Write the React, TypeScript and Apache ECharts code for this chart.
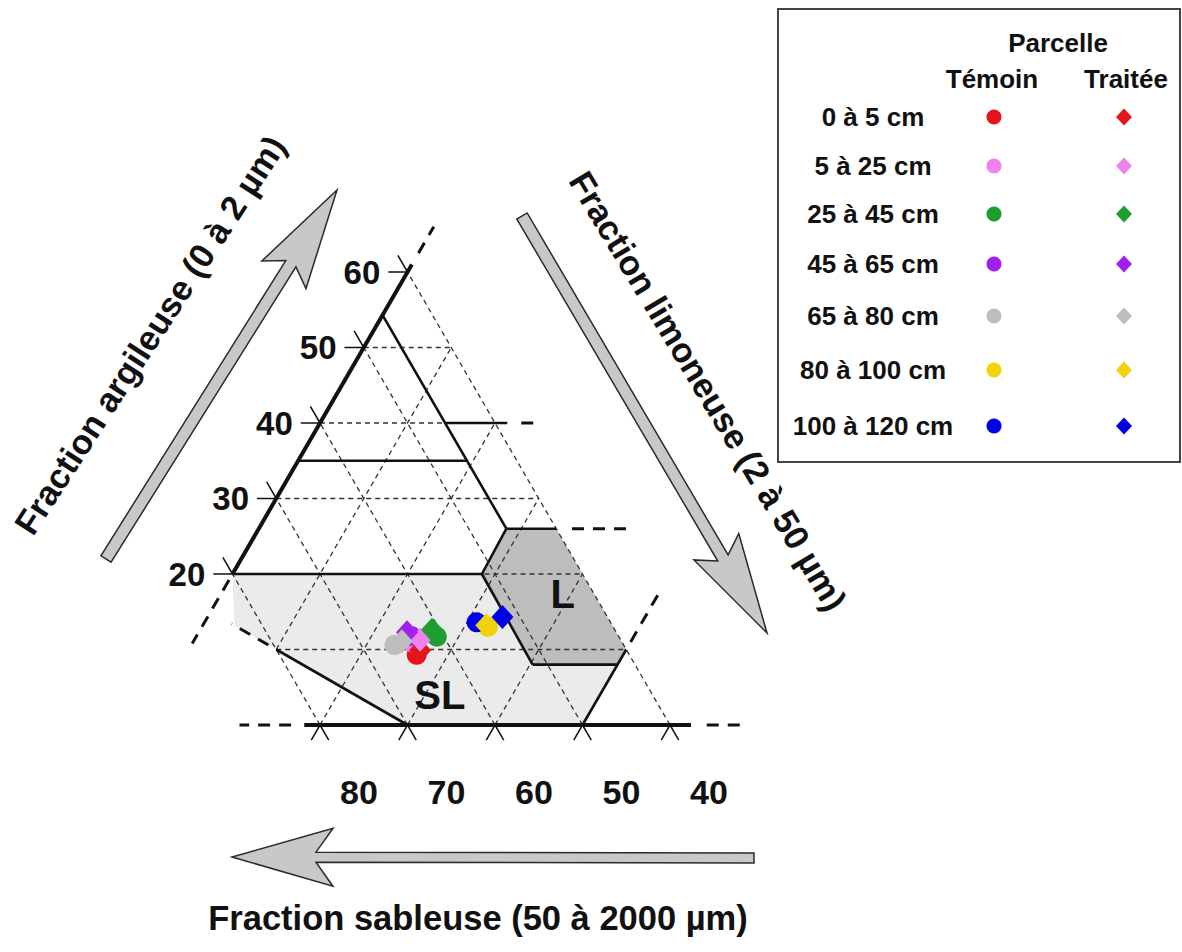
import React, { useEffect, useRef } from "react";
import * as echarts from "echarts";

// ---- Ternary axes (percent) ----
const clayTicks = [20, 30, 40, 50, 60];
const sandTicks = [80, 70, 60, 50, 40];
const gridClay = [10, 20, 30, 40, 50];
const gridSand = [40, 50, 60, 70, 80];
const gridSilt = [10, 20, 30, 40, 50];

// ---- Texture classes, vertices as [clay, silt] ----
const sandyLoamArea = [[20, 0], [20, 28.5], [8, 40.3], [8, 50], [0, 50], [0, 30], [13.2, 3.6]];
const loamArea = [[26, 28.3], [26, 34], [10, 50], [8, 50], [8, 40.3], [20, 28.5]];

const thickBoundaries = [
  [[20, 0], [61, 0]],
  [[0, 18.2], [0, 62.4]],
];
const boundaries = [
  [[20, 0], [20, 28.5]],
  [[35, 0], [35, 19.3]],
  [[54.3, 0], [26, 28.3]],
  [[40, 14.3], [40, 21.4]],
  [[26, 28.3], [26, 34]],
  [[26, 28.3], [20, 28.5]],
  [[20, 28.5], [8, 40.3]],
  [[8, 40.3], [8, 50]],
  [[10, 50], [0, 50]],
  [[0, 30], [10, 10]],
];
const boundaryExtensions = [
  [[62.5, 0], [66, 0]],
  [[19.2, 0], [10.8, 0]],
  [[0, 16.7], [0, 10.8]],
  [[0, 64.2], [0, 68.5]],
  [[40, 23], [40, 25.2]],
  [[26, 35.8], [26, 43]],
  [[11, 50], [18, 50]],
  [[10.6, 8.8], [13.4, 3.2]],
];

const regionLabels = [
  { name: "SL", clay: 4, silt: 31.7 },
  { name: "L", clay: 17.3, silt: 39.1 },
];

// ---- Samples ----
const depths = ["0 à 5 cm", "5 à 25 cm", "25 à 45 cm", "45 à 65 cm", "65 à 80 cm", "80 à 100 cm", "100 à 120 cm"];
const depthColors = ["#e3141c", "#ee82ee", "#1f9e30", "#a020f0", "#bebebe", "#f2d20a", "#0000e6"];
const temoinClay = [9.3, 10.9, 11.7, 11.8, 10.6, 13.0, 13.6];
const temoinSilt = [26.4, 25.2, 27.5, 24.5, 23.2, 32.7, 31.1];
const traiteeClay = [9.9, 11.3, 12.6, 12.3, 11.1, 13.2, 14.3];
const traiteeSilt = [26.5, 25.8, 26.5, 23.8, 23.8, 32.4, 33.7];

const FONT = '"Liberation Sans", Arial, sans-serif';
const INK = "#111";

export default function App() {
  const ref = useRef<HTMLDivElement>(null);

  useEffect(() => {
    const chart = echarts.init(ref.current!, null, { renderer: "svg" });
    const toXY = (c: number, l: number) => [l + c / 2, c];
    const series: any[] = [];

    const polySeries = (pts: number[][], fill: string) => ({
      type: "custom",
      silent: true,
      z: 1,
      data: [[0, 0]],
      renderItem: (_p: any, api: any) => ({
        type: "polygon",
        shape: { points: pts.map(([c, l]) => api.coord(toXY(c, l))) },
        style: { fill, stroke: "none" },
      }),
    });
    series.push(polySeries(sandyLoamArea, "#ebebeb"));
    series.push(polySeries(loamArea, "#bdbdbd"));

    const seg = (pts: number[][], lineStyle: any, z: number) => ({
      type: "line",
      silent: true,
      z,
      symbol: "none",
      showSymbol: false,
      data: pts.map(([c, l]) => toXY(c, l)),
      lineStyle,
    });
    const thin = { color: "#333", width: 1.3, type: [5, 4] };
    const tick = { color: INK, width: 1.5, type: "solid" };
    const solid = { color: INK, width: 2.6, type: "solid" };
    const thick = { color: INK, width: 4, type: "solid" };
    const ext = { color: INK, width: 3, type: [12, 9] };

    gridClay.forEach((c) => series.push(seg([[c, Math.max(0, 20 - c)], [c, 60 - c]], thin, 2)));
    gridSand.forEach((s) => series.push(seg([[0, 100 - s], [100 - s, 0]], thin, 2)));
    gridSilt.forEach((l) => series.push(seg([[Math.max(0, 20 - l), l], [60 - l, l]], thin, 2)));

    boundaries.forEach((b) => series.push(seg(b, solid, 3)));
    thickBoundaries.forEach((b) => series.push(seg(b, thick, 3)));
    boundaryExtensions.forEach((b) => series.push(seg(b, ext, 3)));

    clayTicks.forEach((c) => {
      series.push(seg([[c, 0], [c, -2.2]], tick, 3));
      series.push(seg([[c, 0], [c + 2.2, -2.2]], tick, 3));
    });
    sandTicks.forEach((s) => {
      const l0 = 100 - s;
      series.push(seg([[0, l0], [-2, l0 + 2]], tick, 3));
      series.push(seg([[0, l0], [-2, l0]], tick, 3));
    });

    const labelSeries = (data: any[], label: any) => ({
      type: "scatter",
      silent: true,
      symbolSize: 0,
      z: 5,
      itemStyle: { opacity: 1 },
      data,
      label: { show: true, formatter: "{b}", fontWeight: "bold", color: INK, fontFamily: FONT, ...label },
    });
    series.push(
      labelSeries(
        clayTicks.map((c) => ({ value: toXY(c, -2.2), name: String(c) })),
        { position: "left", distance: 8, fontSize: 33 }
      )
    );
    series.push(
      labelSeries(
        sandTicks.map((s) => ({ value: toXY(-8.9, 100 - s + 8.9), name: String(s) })),
        { position: "inside", fontSize: 34 }
      )
    );
    series.push(
      labelSeries(
        regionLabels.map((r) => ({ value: toXY(r.clay, r.silt), name: r.name })),
        { position: "inside", fontSize: 40 }
      )
    );

    depths.forEach((d, i) =>
      series.push({
        type: "scatter",
        name: `Témoin ${d}`,
        symbol: "circle",
        symbolSize: 20,
        z: 6,
        data: [toXY(temoinClay[i], temoinSilt[i])],
        itemStyle: { color: depthColors[i], opacity: 1 },
      })
    );
    depths.forEach((d, i) =>
      series.push({
        type: "scatter",
        name: `Traitée ${d}`,
        symbol: "diamond",
        symbolSize: [22, 24],
        z: 7,
        data: [toXY(traiteeClay[i], traiteeSilt[i])],
        itemStyle: { color: depthColors[i], opacity: 1 },
      })
    );

    // ---- decorations ----
    const arrowPoly = (tail: number[], tip: number[], sh: number, jBack: number, wBack: number, wHalf: number) => {
      const dx = tip[0] - tail[0];
      const dy = tip[1] - tail[1];
      const len = Math.hypot(dx, dy);
      const ux = dx / len, uy = dy / len;
      const nx = -uy, ny = ux;
      const P = (along: number, off: number) => [tip[0] - ux * along + nx * off, tip[1] - uy * along + ny * off];
      return [P(len, sh), P(jBack, sh), P(wBack, wHalf), P(0, 0), P(wBack, -wHalf), P(jBack, -sh), P(len, -sh)];
    };
    const arrowStyle = { fill: "#c8c8c8", stroke: "#2a2a2a", lineWidth: 1.5 };
    const txt = (x: number, y: number, text: string, size: number, rot = 0, align = "center") => ({
      type: "text",
      x,
      y,
      rotation: rot,
      style: {
        text,
        fontSize: size,
        fontWeight: "bold",
        fontFamily: FONT,
        fill: INK,
        textAlign: align,
        align,
        textVerticalAlign: "middle",
        verticalAlign: "middle",
      },
    });

    const graphic: any[] = [
      { type: "polygon", shape: { points: arrowPoly([106, 559], [337, 190], 6, 87, 100, 26) }, style: arrowStyle },
      { type: "polygon", shape: { points: arrowPoly([522, 216], [767, 633], 6, 87, 100, 26) }, style: arrowStyle },
      { type: "polygon", shape: { points: arrowPoly([754, 858], [232, 857], 5, 84, 101, 29) }, style: arrowStyle },
      txt(150, 335, "Fraction argileuse (0 à 2 µm)", 34.5, (57 * Math.PI) / 180),
      txt(708, 391, "Fraction limoneuse (2 à 50 µm)", 34.5, (-59 * Math.PI) / 180),
      txt(478, 918, "Fraction sableuse (50 à 2000 µm)", 34.5),
      { type: "rect", shape: { x: 778, y: 9, width: 402, height: 453 }, style: { fill: "#fff", stroke: "#444", lineWidth: 2 } },
      txt(1058, 43, "Parcelle", 26),
      txt(992, 79, "Témoin", 26),
      txt(1126, 79, "Traitée", 26),
    ];
    const legendRowY = [117, 166, 214, 264, 316, 370, 426];
    depths.forEach((d, i) => {
      const y = legendRowY[i];
      graphic.push(txt(873, y, d, 26));
      graphic.push({ type: "circle", shape: { cx: 994, cy: y, r: 7.5 }, style: { fill: depthColors[i] } });
      graphic.push({
        type: "polygon",
        shape: { points: [[1124, y - 8.5], [1132, y], [1124, y + 8.5], [1116, y]] },
        style: { fill: depthColors[i] },
      });
    });

    chart.setOption({
      animation: false,
      backgroundColor: "#ffffff",
      grid: { left: 0, right: 0, top: 0, bottom: 0 },
      xAxis: { type: "value", min: -145 / 8.75, max: (1182 - 145) / 8.75, show: false },
      yAxis: { type: "value", min: -(952 - 725) / 7.55, max: 725 / 7.55, show: false },
      series,
      graphic,
    });
    return () => chart.dispose();
  }, []);

  return <div ref={ref} style={{ position: "absolute", left: 0, top: 0, width: 1182, height: 952 }} />;
}
